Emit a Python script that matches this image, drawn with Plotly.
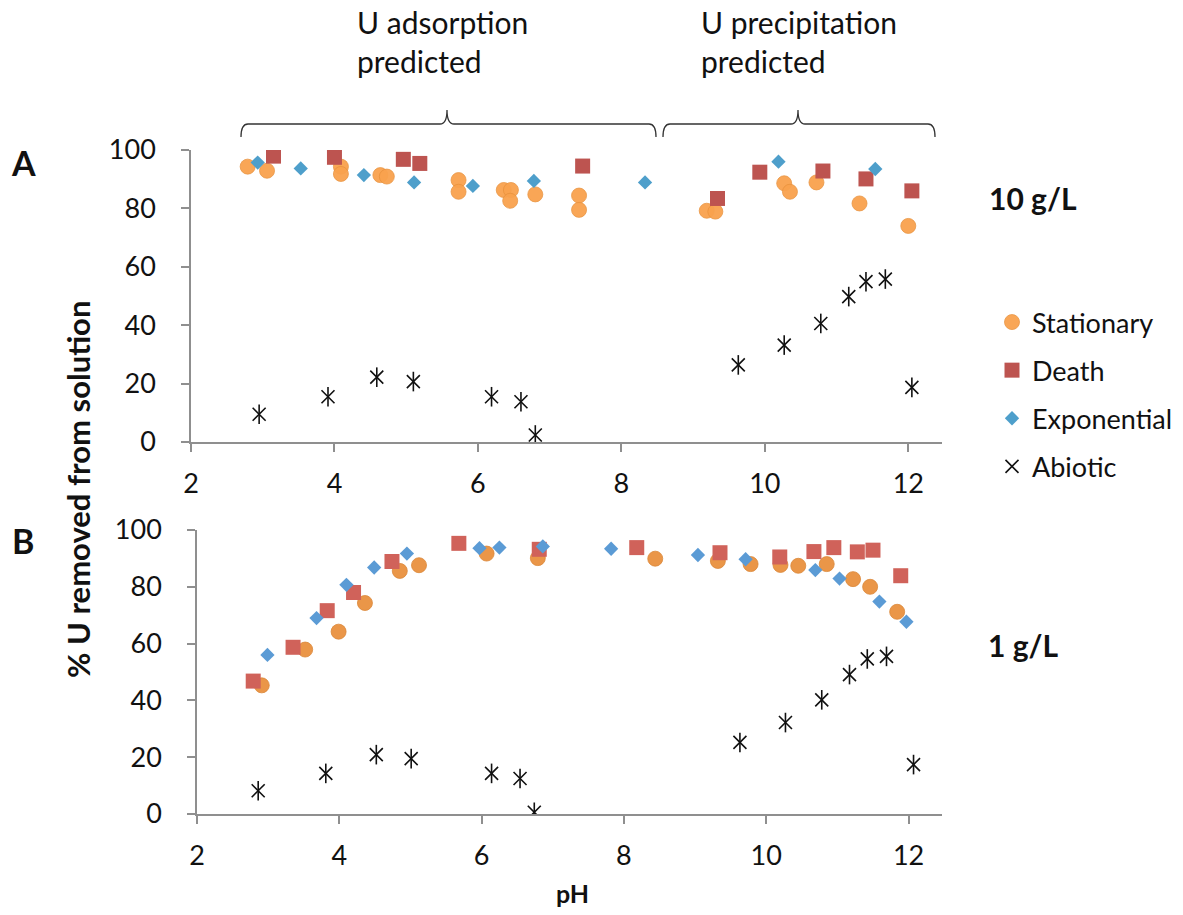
import plotly.graph_objects as go

W, H = 1183, 915

# ---------------- data: 10 g/L (panel A) ----------------
stat_pH_10 = [2.79, 3.06, 4.09, 4.09, 4.64, 4.73, 5.73, 5.73, 6.36, 6.46, 6.45, 6.80, 7.41, 7.41, 9.19, 9.31, 10.27, 10.35, 10.72, 11.32, 12.00]
stat_val_10 = [94.3, 92.9, 94.3, 91.8, 91.4, 90.9, 89.7, 85.7, 86.3, 86.3, 82.6, 84.8, 84.4, 79.5, 79.2, 78.9, 88.6, 85.7, 88.9, 81.7, 74.0]
death_pH_10 = [3.15, 4.00, 4.96, 5.19, 7.46, 9.34, 9.93, 10.81, 11.41, 12.05]
death_val_10 = [97.9, 97.5, 96.8, 95.4, 94.5, 83.4, 92.4, 92.8, 90.1, 86.0]
exp_pH_10 = [2.93, 3.53, 4.41, 5.11, 5.93, 6.78, 8.33, 10.19, 11.54]
exp_val_10 = [95.7, 93.7, 91.4, 88.9, 87.7, 89.4, 88.9, 96.0, 93.5]
abio_pH_10 = [2.95, 3.91, 4.59, 5.10, 6.19, 6.60, 6.80, 9.63, 10.27, 10.78, 11.17, 11.41, 11.68, 12.05]
abio_val_10 = [9.5, 15.5, 22.2, 20.7, 15.5, 13.8, 2.4, 26.4, 33.2, 40.6, 49.8, 54.9, 55.8, 18.7]

# ---------------- data: 1 g/L (panel B) ----------------
stat_pH_1 = [2.91, 3.52, 3.99, 4.36, 4.85, 5.12, 6.07, 6.79, 8.44, 9.32, 9.78, 10.20, 10.45, 10.85, 11.22, 11.46, 11.84]
stat_val_1 = [45.3, 57.9, 64.2, 74.3, 85.6, 87.6, 91.7, 90.1, 89.9, 89.1, 88.0, 87.7, 87.4, 88.0, 82.7, 80.0, 71.2]
death_pH_1 = [2.79, 3.35, 3.83, 4.20, 4.74, 5.68, 6.81, 8.18, 9.35, 10.19, 10.67, 10.95, 11.28, 11.50, 11.89]
death_val_1 = [46.8, 58.7, 71.6, 78.0, 88.9, 95.3, 93.2, 93.8, 92.0, 90.5, 92.4, 93.8, 92.3, 92.9, 83.9]
exp_pH_1 = [2.99, 3.68, 4.10, 4.49, 4.95, 5.97, 6.25, 6.86, 7.82, 9.04, 9.71, 10.69, 11.03, 11.59, 11.97]
exp_val_1 = [56.0, 69.0, 80.7, 86.8, 91.7, 93.6, 93.8, 94.2, 93.4, 91.2, 89.7, 85.9, 82.9, 74.8, 67.7]
abio_pH_1 = [2.86, 3.81, 4.52, 5.01, 6.14, 6.54, 6.74, 9.63, 10.27, 10.78, 11.17, 11.42, 11.69, 12.07]
abio_val_1 = [8.2, 14.3, 20.9, 19.5, 14.3, 12.5, 0.6, 25.2, 32.2, 40.2, 49.1, 54.6, 55.5, 17.4]

series_names = ["Stationary", "Death", "Exponential", "Abiotic"]
x_ticks = [2, 4, 6, 8, 10, 12]
y_ticks = [0, 20, 40, 60, 80, 100]

FONT = "Lato"
AX = "#8f8f8f"

def px(x):
    return x / W

def py(y):
    return 1 - y / H

fig = go.Figure()

def add_panel(xa, ya, data, colors, show):
    (sx, sy), (dx, dy), (ex, ey), (ax_, ay_) = data
    fig.add_trace(go.Scatter(x=sx, y=sy, mode="markers", name=series_names[0], xaxis=xa, yaxis=ya,
                             legendgroup="g1", showlegend=show,
                             marker=dict(symbol="circle", size=15, color=colors[0], opacity=0.95,
                                         line=dict(color=colors[3], width=0.8))))
    fig.add_trace(go.Scatter(x=dx, y=dy, mode="markers", name=series_names[1], xaxis=xa, yaxis=ya,
                             legendgroup="g2", showlegend=show,
                             marker=dict(symbol="square", size=15, color=colors[1], line=dict(width=0))))
    fig.add_trace(go.Scatter(x=ex, y=ey, mode="markers", name=series_names[2], xaxis=xa, yaxis=ya,
                             legendgroup="g3", showlegend=show,
                             marker=dict(symbol="diamond", size=11, color=colors[2], line=dict(width=0))))
    fig.add_trace(go.Scatter(x=ax_, y=ay_, mode="markers", name=series_names[3], xaxis=xa, yaxis=ya,
                             legendgroup="g4", showlegend=show,
                             marker=dict(symbol="x-thin-open", size=13, color="#111111",
                                         line=dict(width=1.6))))
    fig.add_trace(go.Scatter(x=ax_, y=ay_, mode="markers", name=series_names[3], xaxis=xa, yaxis=ya,
                             legendgroup="g4", showlegend=False,
                             marker=dict(symbol="line-ns-open", size=14, color="#111111",
                                         line=dict(width=1.6))))

add_panel("x", "y",
          [(stat_pH_10, stat_val_10), (death_pH_10, death_val_10), (exp_pH_10, exp_val_10), (abio_pH_10, abio_val_10)],
          ["#F9A24E", "#BD5450", "#4E9FCB", "#E8923C"], True)
add_panel("x2", "y2",
          [(stat_pH_1, stat_val_1), (death_pH_1, death_val_1), (exp_pH_1, exp_val_1), (abio_pH_1, abio_val_1)],
          ["#E9913F", "#D0625A", "#5B9BD5", "#D9822F"], False)

axis_common = dict(showline=True, linecolor=AX, linewidth=1.5, ticks="outside", tickcolor=AX,
                   ticklen=8, tickwidth=1.5, showgrid=False, zeroline=False,
                   tickfont=dict(family=FONT, size=27, color="#111"))

xr = [2, 12.47]
fig.update_layout(
    width=W, height=H, margin=dict(l=0, r=0, t=0, b=0, autoexpand=False),
    paper_bgcolor="white", plot_bgcolor="white",
    showlegend=True,
    xaxis=dict(domain=[px(191), px(942)], range=xr, tickvals=x_ticks, anchor="y",
               ticklabelstandoff=9, **axis_common),
    yaxis=dict(domain=[py(442), py(150)], range=[0, 100], tickvals=y_ticks, anchor="x",
               ticklabelstandoff=20, **axis_common),
    xaxis2=dict(domain=[px(197), px(942)], range=xr, tickvals=x_ticks, anchor="y2",
                ticklabelstandoff=9, **axis_common),
    yaxis2=dict(domain=[py(814), py(530)], range=[0, 100], tickvals=y_ticks, anchor="x2",
                ticklabelstandoff=20, **axis_common),
    legend=dict(x=px(992), y=py(298), xanchor="left", yanchor="top",
                font=dict(family=FONT, size=27, color="#111"),
                tracegroupgap=10, bgcolor="rgba(0,0,0,0)"),
)

ann_font = dict(family=FONT, color="#111")
anns = [
    dict(text="<b>A</b>", x=px(23), y=py(163), size=34),
    dict(text="<b>B</b>", x=px(23), y=py(540), size=34),
    dict(text="<b>10 g/L</b>", x=px(1033), y=py(198), size=30),
    dict(text="<b>1 g/L</b>", x=px(1023), y=py(645), size=30),
    dict(text="<b>pH</b>", x=px(572), y=py(893), size=25),
]
for a in anns:
    fig.add_annotation(text=a["text"], x=a["x"], y=a["y"], xref="paper", yref="paper",
                       showarrow=False, xanchor="center", yanchor="middle",
                       font=dict(size=a["size"], **ann_font))

fig.add_annotation(text="<b>% U removed from solution</b>", x=px(78), y=py(490), xref="paper", yref="paper",
                   showarrow=False, textangle=-90, xanchor="center", yanchor="middle",
                   font=dict(size=31, **ann_font))

for txt, x0 in [("U adsorption<br>predicted", 355), ("U precipitation<br>predicted", 699)]:
    fig.add_annotation(text=txt, x=px(x0), y=py(42), xref="paper", yref="paper", showarrow=False,
                       xanchor="left", yanchor="middle", align="left",
                       font=dict(size=30, **ann_font))

def brace(x0, x1, xm, yb, yt, ye):
    c = 7
    p = [
        f"M {px(x0)} {py(ye)}",
        f"Q {px(x0)} {py(yb)} {px(x0 + c)} {py(yb)}",
        f"L {px(xm - c)} {py(yb)}",
        f"Q {px(xm)} {py(yb)} {px(xm)} {py(yt)}",
        f"Q {px(xm)} {py(yb)} {px(xm + c)} {py(yb)}",
        f"L {px(x1 - c)} {py(yb)}",
        f"Q {px(x1)} {py(yb)} {px(x1)} {py(ye)}",
    ]
    return " ".join(p)

for (x0, x1, xm) in [(241, 656, 447), (663, 935, 798)]:
    fig.add_shape(type="path", path=brace(x0, x1, xm, 124, 110, 137), xref="paper", yref="paper",
                  line=dict(color="#333333", width=1.3))

fig.write_html("out.html")
